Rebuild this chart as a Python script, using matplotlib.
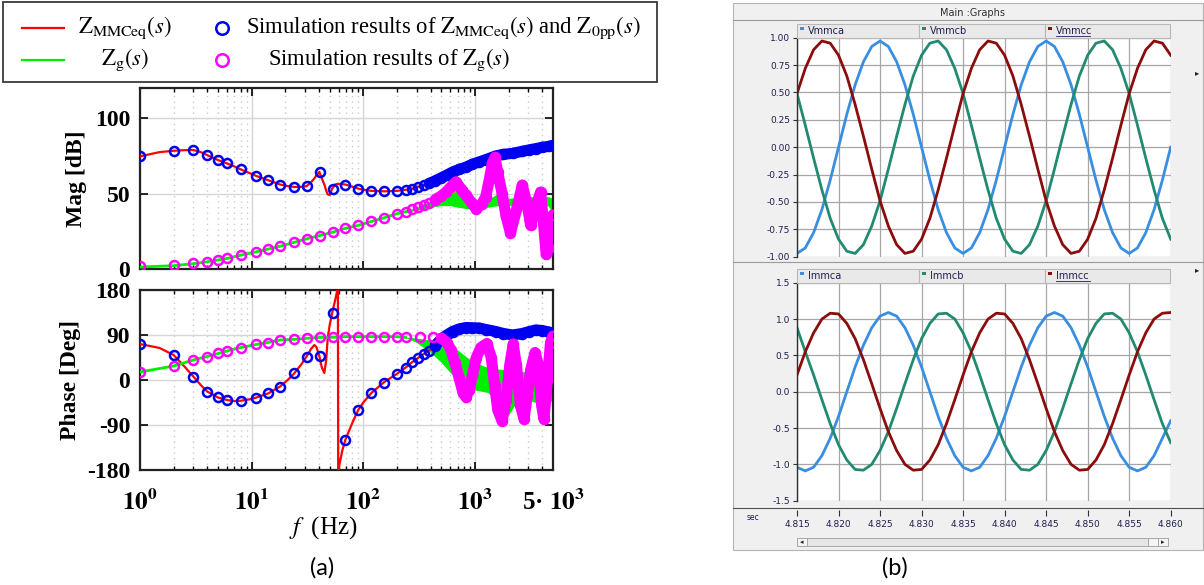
import matplotlib
matplotlib.use('Agg')
import matplotlib.pyplot as plt
from matplotlib.lines import Line2D
from matplotlib.patches import Rectangle

W, H = 1204, 585

# ---------------- (a) impedance data ----------------
# discrete simulation points (low frequency part)
freq_sim = [1, 2, 3, 4, 5, 6, 8, 11, 14, 18, 24, 31, 41, 53, 69, 90, 118, 154, 199]
mag_mmc_sim = [74.7, 78.4, 78.9, 75.5, 72.2, 70.0, 66.0, 61.7, 58.9, 56.0, 54.4,
               54.9, 64.4, 53.3, 56.0, 53.3, 51.8, 51.5, 51.8]
phase_mmc_sim = [72, 50, 6.7, -23.3, -34.7, -40, -41.3, -35.3, -26.7, -13.3, 13.3,
                 46.7, 48, 133.3, -119.3, -59.3, -26.7, -5.3, 12]
mag_zg_sim = [2.2, 2.7, 3.8, 4.9, 6.2, 7.1, 9.3, 11.5, 13.3, 15.1, 17.8, 20.0,
              22.2, 24.4, 27.1, 28.9, 31.5, 34.0, 36.7]
phase_zg_sim = [16.7, 28, 40, 46.7, 53.3, 58, 64.7, 71.3, 74.7, 80, 81.3, 83.3,
                85.3, 85.3, 86.7, 86.7, 86.7, 87, 87]

# dense simulation points (high frequency part)
freq_mmc_tail = [240, 275, 310, 350, 390, 440, 500, 560, 630, 720, 830, 950, 1090,
                 1250, 1540, 1800, 2175, 2650, 3070, 3500, 4000, 4580, 5000]
mag_mmc_tail = [52.5, 53.3, 54.2, 55.5, 56.7, 58.5, 60.5, 62.3, 64.3, 66.0, 67.5,
                69.5, 71.0, 72.5, 75.0, 76.0, 76.7, 78.0, 79.0, 79.8, 80.7, 81.3, 82.0]
phase_mmc_tail = [25, 36, 44, 52, 59, 69, 82, 90, 97, 102, 105, 104.5, 104, 101,
                  97, 93, 90, 93, 97, 100, 99, 96, 92]

freq_zg_tail_m = [240, 275, 310, 350, 390, 440, 500, 550, 610, 676, 760, 830, 940,
                  1020, 1150, 1250, 1350, 1430, 1510, 1600, 1750, 1900, 2080, 2390,
                  2650, 2930, 3150, 3500, 3870, 4100, 4340, 4580, 5000]
mag_zg_tail = [38.0, 39.5, 41.0, 42.5, 44.0, 46.0, 48.5, 51.0, 54.5, 57.8, 52.5,
               49.0, 43.5, 40.0, 43.0, 48.0, 60.0, 70.0, 74.0, 64.0, 50.0, 35.0,
               24.0, 41.0, 55.6, 43.0, 29.0, 41.0, 51.0, 31.0, 10.0, 14.0, 36.0]

freq_zg_tail_p = [240, 320, 420, 500, 560, 610, 660, 720, 780, 830, 890, 950, 1030,
                  1130, 1280, 1400, 1500, 1600, 1750, 1900, 2050, 2200, 2350, 2550,
                  2750, 2950, 3150, 3450, 3700, 3950, 4150, 4450, 4750, 5000]
phase_zg_tail = [87, 87, 86.5, 84, 75, 60, 35, 5, -25, -33, -20, 10, 45, 65, 73,
                 45, -10, -60, -82, -40, 30, 72, 30, -50, -78, -30, 20, 55, 30,
                 -50, -78, 0, 75, 88]

# analytical Z_MMCeq(s)
freq_mmc_line = [1, 1.5, 2, 2.5, 3, 3.5, 4, 5, 6, 7, 8, 10, 11, 14, 18, 21, 24, 28,
                 31, 34, 36.4, 38, 40.4, 42.5, 44.8, 46.5, 48, 50, 52.6, 56, 59.2,
                 59.6, 61, 65, 69, 80, 90, 100, 118, 154, 199, 240, 275, 340, 417,
                 510, 630, 830, 1087, 1540, 2175, 2650, 3500, 4580, 5000]
mag_mmc_line = [74.7, 77.5, 78.4, 78.8, 78.9, 77.5, 75.5, 72.2, 70.0, 68.0, 66.0,
                63.0, 61.7, 58.9, 56.0, 55.0, 54.4, 54.5, 54.9, 57.5, 60.0, 62.0,
                64.4, 60.0, 56.0, 52.0, 49.5, 49.0, 53.3, 56.0, 56.5, 56.5, 56.4,
                56.2, 56.0, 54.5, 53.3, 52.5, 51.8, 51.5, 51.8, 52.5, 53.3, 55.5,
                58.0, 61.0, 64.0, 67.5, 71.0, 75.0, 76.7, 78.0, 79.8, 81.3, 82.0]
phase_mmc_line = [72, 64, 50, 27, 7, -10, -23, -35, -40, -42, -41.5, -38, -35, -27,
                  -13, 0, 13, 32, 47, 62, 70, 66, 48, 25, 14, 40, 84, 110, 134, 160,
                  185, -185, -170, -140, -120, -85, -60, -45, -26, -4, 12, 25, 36,
                  50.7, 64, 85, 97, 105, 104, 97, 90, 94, 100, 96, 92]

# analytical Z_g(s)
freq_zg_line = [1, 2, 3, 4, 5, 6, 8, 11, 14, 18, 24, 31, 41, 53, 69, 90, 118, 154,
                199, 240]
mag_zg_line = [1.3, 2.2, 3.5, 4.8, 6.0, 7.0, 9.2, 11.4, 13.2, 15.1, 17.7, 20.0,
               22.2, 24.4, 27.0, 28.9, 31.5, 34.0, 36.6, 38.0]
phase_zg_line = [16, 28, 40, 47, 53, 58, 65, 71, 75, 80, 81.3, 83.3, 85.3, 85.3,
                 86.7, 86.7, 86.7, 86.7, 86.5, 85]
# resonant (fast oscillating) part of Z_g(s): envelopes
freq_zg_env = [240, 300, 400, 500, 600, 700, 850, 1000, 1300, 1600, 2000, 2500,
               3000, 3500, 4000, 4500, 4900, 5000]
mag_zg_hi = [38.5, 41, 45, 48, 50, 52, 46, 44, 46, 50, 47, 47, 48, 48, 48, 48, 47, 45]
mag_zg_lo = [37.5, 39, 41, 42, 42, 41, 40, 40, 41, 42, 42, 42, 42, 42, 42, 42, 38, 35]
phase_zg_hi = [86, 84, 80, 75, 70, 60, 45, 35, 25, 22, 20, 18, 15, 15, 15, 20, 55, 75]
phase_zg_lo = [85, 75, 55, 35, 15, 0, -15, -20, -25, -45, -70, -35, -40, -45, -50,
               -50, -40, -30]

f_ticks = [1, 10, 100, 1000, 5000]
f_tick_labels = [r'$\mathbf{10^{0}}$', r'$\mathbf{10^{1}}$', r'$\mathbf{10^{2}}$',
                 r'$\mathbf{10^{3}}$', '5\u00b7 $\\mathbf{10^{3}}$']
mag_ticks = [0, 50, 100]
phase_ticks = [-180, -90, 0, 90, 180]

# ---------------- (b) PSCAD waveforms ----------------
time_s = [4.815, 4.816, 4.817, 4.818, 4.819, 4.820, 4.821, 4.822, 4.823, 4.824,
          4.825, 4.826, 4.827, 4.828, 4.829, 4.830, 4.831, 4.832, 4.833, 4.834,
          4.835, 4.836, 4.837, 4.838, 4.839, 4.840, 4.841, 4.842, 4.843, 4.844,
          4.845, 4.846, 4.847, 4.848, 4.849, 4.850, 4.851, 4.852, 4.853, 4.854,
          4.855, 4.856, 4.857, 4.858, 4.859, 4.860]
vmmca = [-0.97, -0.92, -0.78, -0.57, -0.30, 0.00, 0.30, 0.57, 0.78, 0.92,
         0.97, 0.92, 0.78, 0.57, 0.30, 0.00, -0.30, -0.57, -0.78, -0.92,
         -0.97, -0.92, -0.78, -0.57, -0.30, 0.00, 0.30, 0.57, 0.78, 0.92,
         0.97, 0.92, 0.78, 0.57, 0.30, 0.00, -0.30, -0.57, -0.78, -0.92,
         -0.97, -0.92, -0.78, -0.57, -0.30, 0.00]
vmmcb = [0.49, 0.20, -0.10, -0.39, -0.65, -0.84, -0.95, -0.97, -0.89, -0.72,
         -0.49, -0.20, 0.10, 0.39, 0.65, 0.84, 0.95, 0.97, 0.89, 0.72,
         0.49, 0.20, -0.10, -0.39, -0.65, -0.84, -0.95, -0.97, -0.89, -0.72,
         -0.49, -0.20, 0.10, 0.39, 0.65, 0.84, 0.95, 0.97, 0.89, 0.72,
         0.49, 0.20, -0.10, -0.39, -0.65, -0.84]
vmmcc = [0.49, 0.72, 0.89, 0.97, 0.95, 0.84, 0.65, 0.39, 0.10, -0.20,
         -0.49, -0.72, -0.89, -0.97, -0.95, -0.84, -0.65, -0.39, -0.10, 0.20,
         0.49, 0.72, 0.89, 0.97, 0.95, 0.84, 0.65, 0.39, 0.10, -0.20,
         -0.49, -0.72, -0.89, -0.97, -0.95, -0.84, -0.65, -0.39, -0.10, 0.20,
         0.49, 0.72, 0.89, 0.97, 0.95, 0.84]
immca = [-1.04, -1.09, -1.04, -0.88, -0.64, -0.34, 0.00, 0.34, 0.64, 0.88,
         1.04, 1.09, 1.04, 0.88, 0.64, 0.34, 0.00, -0.34, -0.64, -0.88,
         -1.04, -1.09, -1.04, -0.88, -0.64, -0.34, 0.00, 0.34, 0.64, 0.88,
         1.04, 1.09, 1.04, 0.88, 0.64, 0.34, 0.00, -0.34, -0.64, -0.88,
         -1.04, -1.09, -1.04, -0.88, -0.64, -0.40]
immcb = [0.88, 0.55, 0.23, -0.11, -0.44, -0.73, -0.94, -1.07, -1.08, -1.00,
         -0.81, -0.55, -0.23, 0.11, 0.44, 0.73, 0.94, 1.07, 1.08, 1.00,
         0.81, 0.55, 0.23, -0.11, -0.44, -0.73, -0.94, -1.07, -1.08, -1.00,
         -0.81, -0.55, -0.23, 0.11, 0.44, 0.73, 0.94, 1.07, 1.08, 1.00,
         0.81, 0.55, 0.23, -0.11, -0.44, -0.70]
immcc = [0.23, 0.55, 0.81, 1.00, 1.08, 1.07, 0.94, 0.73, 0.44, 0.11,
         -0.23, -0.55, -0.81, -1.00, -1.08, -1.07, -0.94, -0.73, -0.44, -0.11,
         0.23, 0.55, 0.81, 1.00, 1.08, 1.07, 0.94, 0.73, 0.44, 0.11,
         -0.23, -0.55, -0.81, -1.00, -1.08, -1.07, -0.94, -0.73, -0.44, -0.11,
         0.23, 0.55, 0.81, 1.00, 1.08, 1.09]
t_ticks = [4.815, 4.820, 4.825, 4.830, 4.835, 4.840, 4.845, 4.850, 4.855, 4.860]
v_ticks = [-1.0, -0.75, -0.5, -0.25, 0.0, 0.25, 0.5, 0.75, 1.0]
i_ticks = [-1.5, -1.0, -0.5, 0.0, 0.5, 1.0, 1.5]
v_names = ['Vmmca', 'Vmmcb', 'Vmmcc']
i_names = ['Immca', 'Immcb', 'Immcc']

RED, GREEN, BLUE, MAG = '#ff0000', '#00ee00', '#0000f0', '#ff00ff'
PS_COLORS = ['#3a8ee0', '#238a72', '#8b0c0c']
PS_TEXT = '#1e1e50'

plt.rcParams['font.family'] = ['Liberation Serif', 'DejaVu Serif']
plt.rcParams['mathtext.fontset'] = 'stix'

fig = plt.figure(figsize=(W / 100, H / 100), dpi=100)


def fx(x):
    return x / W


def fy(y):
    return 1 - y / H


def box(l, t, r, b):
    return [l / W, 1 - b / H, (r - l) / W, (b - t) / H]


# ---------------- (a) ----------------
ax_m = fig.add_axes(box(140, 88, 553, 269))
ax_p = fig.add_axes(box(140, 290, 553, 470))

for ax in (ax_m, ax_p):
    ax.set_xscale('log')
    ax.set_xlim(1, 5000)
    ax.set_xticks(f_ticks)
    ax.tick_params(which='both', direction='in', top=True, right=True)
    ax.tick_params(which='major', length=6, width=1.2, pad=7)
    ax.tick_params(which='minor', length=3, width=1.0)
    ax.grid(True, which='major', color='#d6d6d6', lw=1.0, ls='-')
    ax.grid(True, which='minor', axis='x', color='#cacaca', lw=1.0, ls=(0, (1, 3)))
    ax.set_axisbelow(True)
    for s in ax.spines.values():
        s.set_linewidth(1.6)
        s.set_color('#222222')

ax_m.set_ylim(0, 120)
ax_m.set_yticks(mag_ticks, [str(v) for v in mag_ticks], fontsize=17, fontweight='bold')
ax_m.tick_params(labelbottom=False)
ax_m.set_ylabel('Mag [dB]', fontsize=17, fontweight='bold', labelpad=6)

ax_p.set_ylim(-180, 180)
ax_p.set_yticks(phase_ticks, [str(v) for v in phase_ticks], fontsize=17, fontweight='bold')
ax_p.set_xticks(f_ticks, f_tick_labels, fontsize=18, fontweight='bold')
ax_p.tick_params(axis='x', which='major', pad=14)
ax_p.set_ylabel('Phase [Deg]', fontsize=17, fontweight='bold', labelpad=4)

band = dict(lw=8, solid_joinstyle='round', solid_capstyle='round')
circ = dict(ls='none', marker='o', mfc='none', ms=6.5, mew=1.8)

# magnitude
ax_m.fill_between(freq_zg_env, mag_zg_lo, mag_zg_hi, color=GREEN, lw=0, zorder=2)
ax_m.plot(freq_mmc_line, mag_mmc_line, color=RED, lw=1.6, zorder=3)
ax_m.plot(freq_zg_line, mag_zg_line, color=GREEN, lw=2.0, zorder=3)
ax_m.plot(freq_sim, mag_mmc_sim, mec=BLUE, zorder=4, **circ)
ax_m.plot(freq_mmc_tail, mag_mmc_tail, mec=BLUE, zorder=4, **circ)
ax_m.plot(freq_mmc_tail[4:], mag_mmc_tail[4:], color=BLUE, zorder=4, **band)
ax_m.plot(freq_sim, mag_zg_sim, mec=MAG, zorder=5, **circ)
ax_m.plot(freq_zg_tail_m, mag_zg_tail, mec=MAG, zorder=5, **circ)
ax_m.plot(freq_zg_tail_m[5:], mag_zg_tail[5:], color=MAG, zorder=5, **band)

# phase
ax_p.fill_between(freq_zg_env, phase_zg_lo, phase_zg_hi, color=GREEN, lw=0, zorder=2)
ax_p.plot(freq_mmc_line, phase_mmc_line, color=RED, lw=1.6, zorder=3)
ax_p.plot(freq_zg_line, phase_zg_line, color=GREEN, lw=2.0, zorder=3)
ax_p.plot(freq_sim, phase_mmc_sim, mec=BLUE, zorder=4, **circ)
ax_p.plot(freq_mmc_tail, phase_mmc_tail, mec=BLUE, zorder=4, **circ)
ax_p.plot(freq_mmc_tail[5:], phase_mmc_tail[5:], color=BLUE, zorder=4, **band)
ax_p.plot(freq_sim, phase_zg_sim, mec=MAG, zorder=5, **circ)
ax_p.plot(freq_zg_tail_p, phase_zg_tail, mec=MAG, zorder=5, **circ)
ax_p.plot(freq_zg_tail_p[3:], phase_zg_tail[3:], color=MAG, zorder=5, **band)

fig.text(fx(323), fy(528), r'$f\;$ (Hz)', fontsize=18, ha='center', va='center')

# legend box
fig.add_artist(Rectangle((fx(3), fy(82)), fx(654), (80) / H, fill=False,
                         ec='#3a3a3a', lw=1.3, transform=fig.transFigure))
leg_rows = [
    (28, RED, r'$\mathrm{Z}_{\mathrm{MMCeq}}(s)$', BLUE, 246,
     r'Simulation results of $\mathrm{Z}_{\mathrm{MMCeq}}(s)$ and $\mathrm{Z}_{\mathrm{0pp}}(s)$'),
    (60, GREEN, r'$\mathrm{Z}_{\mathrm{g}}(s)$', MAG, 268,
     r'Simulation results of $\mathrm{Z}_{\mathrm{g}}(s)$'),
]
for y, lc, lab, mc, tx, txt in leg_rows:
    fig.add_artist(Line2D([fx(22), fx(64)], [fy(y), fy(y)], color=lc, lw=1.6))
    fig.text(fx(125), fy(y), lab, fontsize=16.3, ha='center', va='center')
    fig.add_artist(Line2D([fx(222)], [fy(y)], marker='o', mfc='none', mec=mc,
                          ms=9, mew=1.8))
    fig.text(fx(tx), fy(y), txt, fontsize=16.3, ha='left', va='center')

fig.text(fx(322), fy(568), '(a)', fontsize=17, ha='center', va='center',
         family='Lato')

# ---------------- (b) ----------------
fig.add_artist(Rectangle((fx(733), fy(550)), (1203 - 733) / W, 547 / H,
                         fc='#f0f0f0', ec='#b4b4b4', lw=0.8,
                         transform=fig.transFigure, zorder=0))
fig.text(fx(973), fy(13), 'Main :Graphs', fontsize=7, color='#303030',
         ha='center', va='center', family='DejaVu Sans')
for yy in (20, 262, 508):
    fig.add_artist(Line2D([fx(733), fx(1203)], [fy(yy), fy(yy)],
                          color='#9a9a9a' if yy != 508 else '#505050', lw=0.8))

ax_v = fig.add_axes(box(797, 37.7, 1170.7, 256.7))
ax_i = fig.add_axes(box(797, 282.7, 1170.7, 500.7))

for ax, ys, names, ylim, yt, fmt in (
        (ax_v, (vmmca, vmmcb, vmmcc), v_names, (-1, 1), v_ticks, '{:.2f}'),
        (ax_i, (immca, immcb, immcc), i_names, (-1.5, 1.5), i_ticks, '{:.1f}')):
    ax.set_facecolor('white')
    for y, c in zip(ys, PS_COLORS):
        ax.plot(time_s, y, color=c, lw=2.0)
    ax.set_xlim(4.815, 4.860)
    ax.set_ylim(*ylim)
    ax.set_xticks(t_ticks)
    ax.set_yticks(yt, [fmt.format(v) for v in yt], fontsize=6.5, color=PS_TEXT,
                  family='DejaVu Sans')
    ax.grid(True, color='#a6a6a6', lw=0.9)
    ax.set_axisbelow(True)
    for k in ('top', 'right'):
        ax.spines[k].set_visible(False)
    ax.spines['left'].set_color('#303030')
    ax.spines['left'].set_linewidth(1.0)
    ax.tick_params(axis='y', direction='out', length=3, width=0.8, pad=2,
                   color='#303030')

    # legend strip above plot
    top = ax.get_position().y1
    edges = [797, 919, 1045, 1170]
    for j in range(3):
        x0, x1 = edges[j], edges[j + 1]
        fig.add_artist(Rectangle((fx(x0), top), (x1 - x0) / W, 14 / H,
                                 fc='#e9e9e9', ec='#b8b8b8', lw=0.8,
                                 transform=fig.transFigure))
        fig.add_artist(Rectangle((fx(x0 + 3), top + 7.5 / H), 4 / W, 3 / H,
                                 fc=PS_COLORS[j], ec='none',
                                 transform=fig.transFigure))
        fig.text(fx(x0 + 11), top + 6.5 / H, names[j], fontsize=7, color=PS_TEXT,
                 ha='left', va='center', family='DejaVu Sans')
        if j == 2:
            fig.add_artist(Line2D([fx(x0 + 11), fx(x0 + 45)],
                                  [top + 1.5 / H, top + 1.5 / H],
                                  color=PS_TEXT, lw=0.6))

ax_v.spines['bottom'].set_visible(False)
ax_v.tick_params(axis='x', length=0, labelbottom=False)

ax_i.spines['bottom'].set_position(('outward', 7))
ax_i.spines['bottom'].set_visible(False)
ax_i.set_xticks(t_ticks, ['{:.3f}'.format(t) for t in t_ticks], fontsize=6.5,
                color=PS_TEXT, family='DejaVu Sans')
ax_i.tick_params(axis='x', direction='out', length=4, width=0.8, pad=3,
                 color='#303030')

fig.text(fx(753), fy(517), 'sec', fontsize=5.5, color=PS_TEXT,
         family='DejaVu Sans', ha='center', va='center')
for yy in (73, 270):
    fig.text(fx(1197), fy(yy), '\u25b8', fontsize=6, color='#202020',
             family='DejaVu Sans', ha='center', va='center')

# scrollbar
fig.add_artist(Rectangle((fx(797), fy(546)), (1168 - 797) / W, 8 / H,
                         fc='#e6e6e6', ec='#a8a8a8', lw=0.7,
                         transform=fig.transFigure))
for x0, sym in ((797, '\u25c2'), (1158, '\u25b8')):
    fig.add_artist(Rectangle((fx(x0), fy(546)), 10 / W, 8 / H, fc='#f4f4f4',
                             ec='#a8a8a8', lw=0.7, transform=fig.transFigure))
    fig.text(fx(x0 + 5), fy(542), sym, fontsize=5, color='#202020',
             family='DejaVu Sans', ha='center', va='center')
fig.add_artist(Rectangle((fx(1148), fy(546)), 10 / W, 8 / H, fc='#f4f4f4',
                         ec='#a8a8a8', lw=0.7, transform=fig.transFigure))

fig.text(fx(895), fy(568), '(b)', fontsize=17, ha='center', va='center',
         family='Lato')

fig.savefig('out.png', dpi=100)
